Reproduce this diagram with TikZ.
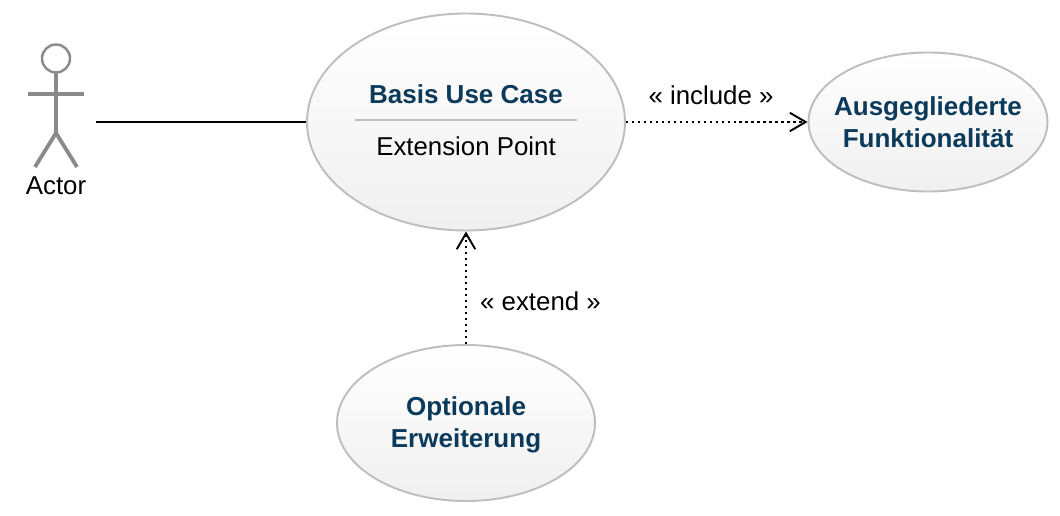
\documentclass[tikz,border=0pt]{standalone}
\usepackage{fontspec}
\setmainfont{Liberation Sans}
\usetikzlibrary{shapes.geometric,arrows.meta}
\definecolor{titleblue}{HTML}{0B3A5A}
\definecolor{rimgray}{HTML}{BEBEBE}
\definecolor{actorgray}{HTML}{8A8A8A}
\begin{document}
\begin{tikzpicture}[x=0.02cm, y=-0.02cm,
  usecase/.style = {draw=rimgray, ellipse, line width=1.1pt, inner sep=0pt, top color=white, bottom color=black!6},
  title/.style = {font=\fontsize{14.8}{18.3}\selectfont\bfseries, text=titleblue, align=center},
  label/.style = {font=\fontsize{14.7}{19}\selectfont},
  stick/.style = {draw=actorgray, line width=2.2pt},
  dep/.style = {line width=1.3pt, dash pattern=on 1.3pt off 2.1pt, -{Straight Barb[length=9pt, width=10.5pt, line width=1.1pt]}}]
\useasboundingbox (0,0) rectangle (1060,516);
\node[usecase, minimum width=318*0.02cm, minimum height=217*0.02cm] (basis) at (466,122) {};
\node[usecase, minimum width=239*0.02cm, minimum height=139*0.02cm] (ausg) at (928,122) {};
\node[usecase, minimum width=258*0.02cm, minimum height=156*0.02cm] (opt) at (466,423) {};
\node[title] (basistitle) at (466,94) {Basis Use Case};
\node[label] (point) at (466,146) {Extension Point};
\node[title] (ausgtitle) at (928,122) {Ausgegliederte\\Funktionalität};
\node[title] (opttitle) at (466,424.5) {Optionale\\Erweiterung};
\node[label] (actor) at (56,186) {Actor};
\node[label] (incl) at (711,95) {« include »};
\node[label] (ext) at (540.5,301) {« extend »};
% actor figure
\draw[stick, line width=1.4pt, fill=white] (56,58.5) circle (14);
\draw[stick] (56,73) -- (56,133);
\draw[stick] (28,94) -- (84,94);
\draw[stick] (35,167) -- (56,133) -- (77,167);
% divider in the base case
\coordinate (divl) at (355,120);
\coordinate (divr) at (577,120);
\draw[rimgray, line width=1.1pt] (divl) -- (divr);
% connectors
\coordinate (actorend) at (96,122);
\draw[line width=1.1pt] (actorend) -- (basis.west);
\draw[dep] (basis.east) -- (ausg.west);
\draw[dep] (opt.north) -- (basis.south);
\end{tikzpicture}
\end{document}
